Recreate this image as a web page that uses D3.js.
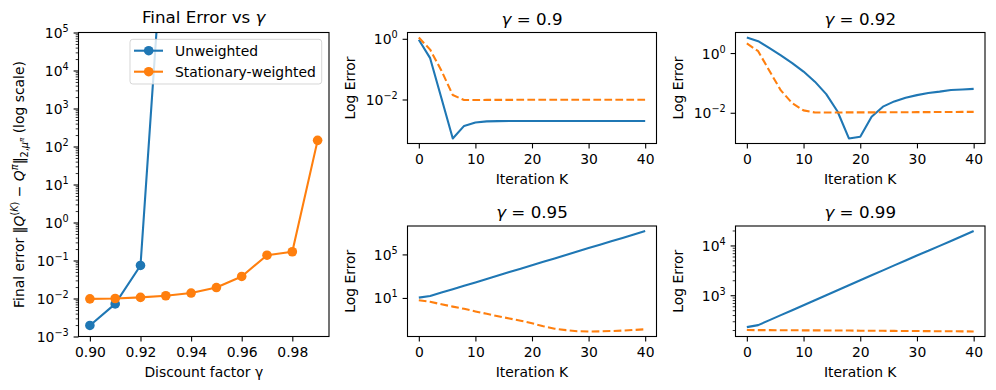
<!DOCTYPE html>
<html>
<head>
<meta charset="utf-8">
<script src="https://cdn.jsdelivr.net/npm/d3@7"></script>
<style>
    body { margin: 0; background: #fff; }
    svg text { font-family: "DejaVu Sans", sans-serif; fill: #000; white-space: pre; }
</style>
</head>
<body>
<svg id="chart" width="996" height="390"></svg>
<script>
// final error for each discount factor (left panel)
var gammas = [0.90, 0.91, 0.92, 0.93, 0.94, 0.95, 0.96, 0.97, 0.98, 0.99];
var finalUnweighted = [0.00195, 0.0072, 0.074, 4e8, 1e9, 3e9, 8e9, 2e10, 6e10, 2e11];
var finalStationary = [0.0098, 0.0100, 0.0107, 0.0118, 0.0139, 0.0194, 0.038, 0.138, 0.170, 145];
var gammaTicks = [0.90, 0.92, 0.94, 0.96, 0.98];
var finalErrorExps = [-3, -2, -1, 0, 1, 2, 3, 4, 5];

// error per iteration for four discount factors
var iterations = [0, 2, 4, 6, 8, 10, 12, 14, 16, 18, 20, 22, 24, 26, 28, 30, 32, 34, 36, 38, 40];
var iterationTicks = [0, 10, 20, 30, 40];

var unweighted090 = [0.93, 0.23, 0.011, 0.00052, 0.00135, 0.00174, 0.0019, 0.00193, 0.00195, 0.00195,
    0.00195, 0.00195, 0.00195, 0.00195, 0.00195, 0.00195, 0.00195, 0.00195, 0.00195, 0.00195, 0.00195];
var stationary090 = [1.1, 0.44, 0.089, 0.014, 0.0096, 0.0096, 0.0097, 0.0097, 0.0097, 0.0098,
    0.0098, 0.0098, 0.0098, 0.0098, 0.0098, 0.0098, 0.0098, 0.0098, 0.0098, 0.0098, 0.0098];

var unweighted092 = [3.3, 2.5, 1.45, 0.83, 0.46, 0.24, 0.11, 0.042, 0.011, 0.00138, 0.00158,
    0.0074, 0.016, 0.024, 0.032, 0.039, 0.046, 0.051, 0.058, 0.060, 0.063];
var stationary092 = [2.1, 1.15, 0.25, 0.056, 0.021, 0.012, 0.0102, 0.0102, 0.0102, 0.0103, 0.0103,
    0.0103, 0.0104, 0.0104, 0.0104, 0.0105, 0.0105, 0.0106, 0.0106, 0.0107, 0.0107];

var unweighted095 = [10.7, 15.1, 30.9, 63, 132, 269, 562, 1150, 2400, 4900, 1.0e4,
    2.09e4, 4.27e4, 8.9e4, 1.82e5, 3.8e5, 7.8e5, 1.62e6, 3.3e6, 6.9e6, 1.41e7];
var stationary095 = [6.2, 4.4, 2.6, 1.6, 1.0, 0.58, 0.35, 0.21, 0.13, 0.081, 0.047,
    0.025, 0.015, 0.011, 0.0087, 0.0083, 0.0085, 0.0091, 0.010, 0.0115, 0.0132];

var unweighted099 = [229, 251, 316, 398, 501, 631, 794, 1000, 1259, 1585, 1995,
    2512, 3160, 3980, 5000, 6300, 7800, 9800, 12300, 15500, 19500];
var stationary099 = [200, 199, 199, 198, 198, 197, 197, 196, 195, 195, 194,
    193, 193, 192, 191, 191, 190, 189, 189, 188, 187];

var blue = "#1f77b4";
var orange = "#ff7f0e";
var labelSize = 13.9;
var titleSize = 16.7;
var svg = d3.select("#chart");

// text made of parts, each with optional italic, size and baseline shift
function richText(text, parts) {
    let prev = 0;
    parts.forEach(function (p) {
        let shift = p.sh || 0;
        text.append("tspan")
            .attr("dy", shift - prev)
            .attr("font-size", p.sz || null)
            .attr("font-style", p.it ? "italic" : null)
            .text(p.t);
        prev = shift;
    });
}

function powerLabel(text, exp) {
    let e = exp < 0 ? "\u2212" + (-exp) : "" + exp;
    richText(text, [{ t: "10" }, { t: e, sz: 9.7, sh: -6 }]);
}

function minorTicks(domain) {
    let ticks = [];
    let lo = Math.floor(Math.log10(domain[0]));
    let hi = Math.ceil(Math.log10(domain[1]));
    for (let k = lo; k <= hi; k++) {
        for (let m = 2; m <= 9; m++) {
            let v = m * Math.pow(10, k);
            if (v >= domain[0] && v <= domain[1]) ticks.push(v);
        }
    }
    return ticks;
}

function padded(values, isLog) {
    let vals = isLog ? values.map(Math.log10) : values;
    let ext = d3.extent(vals);
    let pad = (ext[1] - ext[0]) * 0.05;
    let dom = [ext[0] - pad, ext[1] + pad];
    return isLog ? dom.map(function (v) { return Math.pow(10, v); }) : dom;
}

function drawAxes(g, x, y, w, h, xTicks, xFormat, yExps, withMinor, id) {
    g.append("clipPath").attr("id", id)
        .append("rect").attr("width", w).attr("height", h);

    let xAxis = g.append("g")
        .attr("transform", `translate(0,${h})`)
        .call(d3.axisBottom(x).tickValues(xTicks).tickSize(4.9).tickFormat(xFormat));
    xAxis.select(".domain").remove();
    xAxis.selectAll("line").attr("stroke-width", 1.1);
    xAxis.selectAll("text")
        .attr("y", 20).attr("dy", null)
        .attr("font-size", labelSize)
        .attr("font-family", "DejaVu Sans");

    if (withMinor) {
        let minor = g.append("g")
            .call(d3.axisLeft(y).tickValues(minorTicks(y.domain())).tickSize(2.8).tickFormat(""));
        minor.select(".domain").remove();
        minor.selectAll("line").attr("stroke-width", 0.8);
    }

    let yAxis = g.append("g")
        .call(d3.axisLeft(y).tickValues(yExps.map(function (e) { return Math.pow(10, e); }))
            .tickSize(4.9).tickFormat(""));
    yAxis.select(".domain").remove();
    yAxis.selectAll("line").attr("stroke-width", 1.1);
    yAxis.selectAll(".tick").each(function (d, i) {
        let t = d3.select(this).select("text")
            .attr("x", -9.8).attr("dy", null).attr("y", 5)
            .attr("font-size", labelSize)
            .attr("font-family", "DejaVu Sans")
            .attr("text-anchor", "end");
        powerLabel(t, yExps[i]);
    });
}

function drawFrame(g, w, h) {
    g.append("rect")
        .attr("width", w).attr("height", h)
        .attr("fill", "none")
        .attr("stroke", "#000")
        .attr("stroke-width", 1.1);
}

function generateFinalErrorPanel() {
    let left = 78.5, top = 32.5, w = 250.5, h = 304;
    let g = svg.append("g").attr("transform", `translate(${left},${top})`);
    let x = d3.scaleLinear().domain(padded(gammas, false)).range([0, w]);
    let y = d3.scaleLog().domain([1e-3, 1e5]).range([h, 0]);

    drawAxes(g, x, y, w, h, gammaTicks, d3.format(".2f"), finalErrorExps, true, "clip-final");

    let plot = g.append("g").attr("clip-path", "url(#clip-final)");
    let line = d3.line()
        .x(function (d, i) { return x(gammas[i]); })
        .y(function (d) { return y(d); });

    [[finalUnweighted, blue], [finalStationary, orange]].forEach(function (s) {
        plot.append("path")
            .attr("d", line(s[0]))
            .attr("fill", "none")
            .attr("stroke", s[1])
            .attr("stroke-width", 2.1)
            .attr("stroke-linejoin", "round");
        plot.selectAll(null)
            .data(s[0]).enter().append("circle")
            .attr("cx", function (d, i) { return x(gammas[i]); })
            .attr("cy", function (d) { return y(d); })
            .attr("r", 4.8)
            .attr("fill", s[1]);
    });

    drawFrame(g, w, h);

    g.append("text")
        .attr("x", w / 2).attr("y", -9.5)
        .attr("text-anchor", "middle")
        .attr("font-size", titleSize)
        .call(richText, [{ t: "Final Error vs " }, { t: "\u03b3", it: true }]);

    g.append("text")
        .attr("x", w / 2).attr("y", h + 40)
        .attr("text-anchor", "middle")
        .attr("font-size", labelSize)
        .text("Discount factor \u03b3");

    g.append("text")
        .attr("transform", `translate(${24 - left},${h / 2}) rotate(-90)`)
        .attr("text-anchor", "middle")
        .attr("font-size", labelSize)
        .call(richText, [
            { t: "Final error \u2016" },
            { t: "Q", it: true },
            { t: "(", sz: 9.7, sh: -6 },
            { t: "K", sz: 9.7, sh: -6, it: true },
            { t: ")", sz: 9.7, sh: -6 },
            { t: " \u2212 " },
            { t: "Q", it: true },
            { t: "\u03c0", sz: 9.7, sh: -6, it: true },
            { t: "\u2016" },
            { t: "2,", sz: 9.7, sh: 3.5 },
            { t: "\u03bc", sz: 9.7, sh: 3.5, it: true },
            { t: "\u03c0", sz: 7, sh: -0.5, it: true },
            { t: " (log scale)" }
        ]);

    generateLegend(g);
}

function generateLegend(g) {
    let lg = g.append("g").attr("transform", `translate(${130 - 78.5},${39.3 - 32.5})`);
    lg.append("rect")
        .attr("width", 191.7).attr("height", 44.7)
        .attr("rx", 2.8)
        .attr("fill", "#fff").attr("fill-opacity", 0.8)
        .attr("stroke", "#ccc").attr("stroke-opacity", 0.8)
        .attr("stroke-width", 1);
    let entries = [["Unweighted", blue], ["Stationary-weighted", orange]];
    let rows = lg.selectAll("g.entry")
        .data(entries).enter().append("g")
        .attr("class", "entry")
        .attr("transform", function (d, i) { return `translate(0,${11.4 + i * 21})`; });
    rows.append("line")
        .attr("x1", 4).attr("x2", 33)
        .attr("stroke", function (d) { return d[1]; })
        .attr("stroke-width", 2.1);
    rows.append("circle")
        .attr("cx", 18.7).attr("r", 4.8)
        .attr("fill", function (d) { return d[1]; });
    rows.append("text")
        .attr("x", 45).attr("y", 5)
        .attr("font-size", labelSize)
        .text(function (d) { return d[0]; });
}

function generateIterationPanel(p, idx) {
    let g = svg.append("g").attr("transform", `translate(${p.left},${p.top})`);
    let x = d3.scaleLinear().domain(padded(iterations, false)).range([0, p.w]);
    let y = d3.scaleLog().domain(padded(p.unw.concat(p.sta), true)).range([p.h, 0]);

    drawAxes(g, x, y, p.w, p.h, iterationTicks, d3.format("d"), p.exps, p.minor, "clip-" + idx);

    let plot = g.append("g").attr("clip-path", `url(#clip-${idx})`);
    let line = d3.line()
        .x(function (d, i) { return x(iterations[i]); })
        .y(function (d) { return y(d); });
    plot.append("path")
        .attr("d", line(p.unw))
        .attr("fill", "none")
        .attr("stroke", blue)
        .attr("stroke-width", 2.1)
        .attr("stroke-linejoin", "round");
    plot.append("path")
        .attr("d", line(p.sta))
        .attr("fill", "none")
        .attr("stroke", orange)
        .attr("stroke-width", 2.1)
        .attr("stroke-dasharray", "7.7,3.3")
        .attr("stroke-linejoin", "round");

    drawFrame(g, p.w, p.h);

    g.append("text")
        .attr("x", p.w / 2).attr("y", -8)
        .attr("text-anchor", "middle")
        .attr("font-size", titleSize)
        .call(richText, [{ t: "\u03b3", it: true }, { t: " = " + p.title }]);

    g.append("text")
        .attr("x", p.w / 2).attr("y", p.h + 40)
        .attr("text-anchor", "middle")
        .attr("font-size", labelSize)
        .text("Iteration K");

    g.append("text")
        .attr("transform", `translate(-52.5,${p.h / 2}) rotate(-90)`)
        .attr("text-anchor", "middle")
        .attr("font-size", labelSize)
        .text("Log Error");
}

function initialLoad() {
    generateFinalErrorPanel();
    let panels = [
        { title: "0.9", unw: unweighted090, sta: stationary090, exps: [-2, 0], minor: false,
            left: 407.5, top: 32.5, w: 249, h: 111 },
        { title: "0.92", unw: unweighted092, sta: stationary092, exps: [-2, 0], minor: false,
            left: 735.5, top: 32.5, w: 249.5, h: 111 },
        { title: "0.95", unw: unweighted095, sta: stationary095, exps: [1, 5], minor: false,
            left: 407.5, top: 226, w: 249, h: 110.5 },
        { title: "0.99", unw: unweighted099, sta: stationary099, exps: [3, 4], minor: true,
            left: 735.5, top: 226, w: 249.5, h: 110.5 }
    ];
    panels.forEach(generateIterationPanel);
}

initialLoad();
</script>
</body>
</html>
